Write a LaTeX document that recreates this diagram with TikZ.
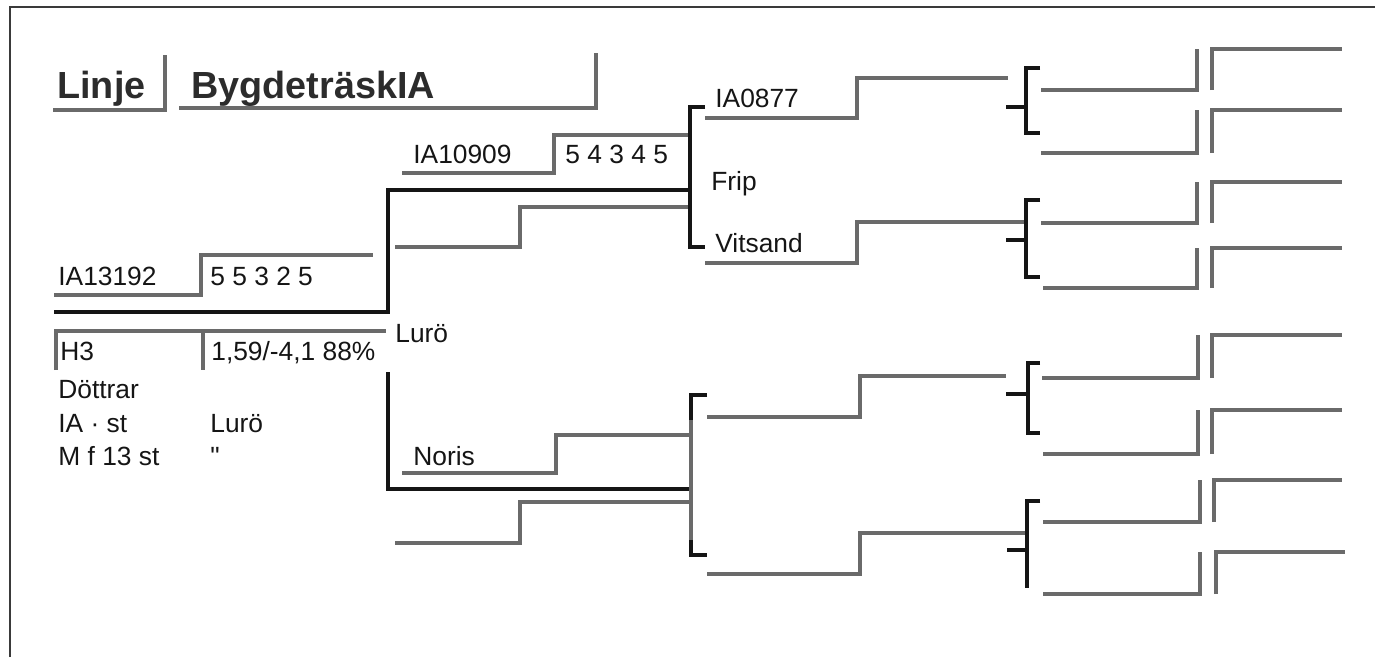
\documentclass[tikz,border=0pt]{standalone}
\usepackage{fontspec}
\setmainfont{Liberation Sans}
\newfontfamily\rawfont{Liberation Sans}
\usepackage{tikz}
\definecolor{stem}{HTML}{6A6A6A}
\definecolor{ink}{HTML}{151515}
\definecolor{rim}{HTML}{3A3A3A}
\newcommand{\txt}{\fontsize{15}{18}\selectfont}
\newcommand{\head}{\fontsize{21.5}{25}\selectfont\bfseries}

\begin{document}
\begin{tikzpicture}[x=0.02cm,y=-0.02cm,
  gline/.style={stem,line width=2.4pt},
  bline/.style={ink,line width=2.7pt},
  brk/.style={ink,line width=2.4pt},
  lbl/.style={anchor=base west,inner sep=0pt,text=ink,font=\txt},
  hlbl/.style={anchor=base west,inner sep=0pt,text=ink!90,font=\head}]
  \useasboundingbox (0,0) rectangle (1375,657);
  \draw[rim,line width=0.9pt] (10,657) -- (10,7) -- (1375,7);
  % title
  \draw[gline] (53,110) -- (165,110) -- (165,55);
  \draw[gline] (179,108) -- (596,108) -- (596,53);
  \node[hlbl] (linje) at (57,98) {Linje};
  \node[hlbl] (linjenamn) at (191,98) {BygdeträskIA};
  % the bull
  \draw[gline] (54,295) -- (201,295) -- (201,255) -- (373,255);
  \node[lbl] (tjur) at (58,285) {IA13192};
  \node[lbl] (tjurtal) at (210,285) {5 5 3 2 5};
  \draw[bline] (54,312) -- (388,312) -- (388,190) -- (690,190);
  \draw[bline] (388,372) -- (388,489) -- (690,489);
  \draw[gline] (56,370) -- (56,331) -- (386,331);
  \draw[gline] (203,331) -- (203,370);
  \node[lbl] (ras) at (60,360) {H3};
  \node[lbl] (index) at (211,360) {1,59/-4,1 88\%};
  \node[lbl] (lur) at (395,342) {Lurö};
  \node[lbl] (dottrar) at (58,398) {Döttrar};
  \node[lbl] (dia) at (58,432) {IA · st};
  \node[lbl] (diaort) at (210,432) {Lurö};
  \node[lbl] (dmf) at (58,465) {M f 13 st};
  \node[lbl] (dmfort) at (210,465) {\rawfont"};
  % father side
  \draw[gline] (402,173) -- (554,173) -- (554,135) -- (690,135);
  \node[lbl] (far) at (413,163) {IA10909};
  \node[lbl] (fartal) at (565,163) {5 4 3 4 5};
  \draw[gline] (395,247) -- (520,247) -- (520,207) -- (690,207);
  \draw[brk] (705,107) -- (690,107) -- (690,247) -- (705,247);
  \node[lbl] (frip) at (711,190) {Frip};
  \draw[gline] (705,118) -- (857,118) -- (857,78) -- (1008,78);
  \node[lbl] (farfar) at (715,107) {IA0877};
  \draw[gline] (705,263) -- (857,263) -- (857,222) -- (1026,222);
  \node[lbl] (farmor) at (715,252) {Vitsand};
  % mother side
  \draw[gline] (402,473) -- (556,473) -- (556,435) -- (690,435);
  \node[lbl] (mor) at (413,465) {Noris};
  \draw[gline] (395,543) -- (520,543) -- (520,502) -- (690,502);
  \draw[brk] (707,395) -- (691,395) -- (691,420);
  \draw[gline] (691,420) -- (691,540);
  \draw[brk] (691,540) -- (691,555) -- (707,555);
  \draw[gline] (707,417) -- (860,417) -- (860,376) -- (1006,376);
  \draw[gline] (707,574) -- (860,574) -- (860,533) -- (1027,533);
  % third generation brackets
  \draw[brk] (1040,68) -- (1026,68) -- (1026,133) -- (1040,133);
  \draw[brk] (1006,107) -- (1026,107);
  \draw[brk] (1040,200) -- (1026,200) -- (1026,277) -- (1040,277);
  \draw[brk] (1006,240) -- (1026,240);
  \draw[brk] (1040,363) -- (1028,363) -- (1028,433) -- (1040,433);
  \draw[brk] (1006,394) -- (1028,394);
  \draw[brk] (1040,501) -- (1027,501) -- (1027,588);
  \draw[brk] (1007,550) -- (1027,550);
  % fourth generation
  \draw[gline] (1041,90) -- (1197,90) -- (1197,49);
  \draw[gline] (1212,90) -- (1212,49) -- (1342,49);
  \draw[gline] (1041,153) -- (1197,153) -- (1197,110);
  \draw[gline] (1212,153) -- (1212,110) -- (1342,110);
  \draw[gline] (1041,223) -- (1197,223) -- (1197,182);
  \draw[gline] (1212,223) -- (1212,182) -- (1342,182);
  \draw[gline] (1043,288) -- (1197,288) -- (1197,248);
  \draw[gline] (1212,288) -- (1212,248) -- (1342,248);
  \draw[gline] (1042,378) -- (1198,378) -- (1198,335);
  \draw[gline] (1212,378) -- (1212,335) -- (1342,335);
  \draw[gline] (1043,454) -- (1198,454) -- (1198,410);
  \draw[gline] (1212,454) -- (1212,410) -- (1342,410);
  \draw[gline] (1043,522) -- (1200,522) -- (1200,480);
  \draw[gline] (1214,522) -- (1214,480) -- (1342,480);
  \draw[gline] (1043,594) -- (1200,594) -- (1200,552);
  \draw[gline] (1216,594) -- (1216,552) -- (1345,552);
\end{tikzpicture}
\end{document}
